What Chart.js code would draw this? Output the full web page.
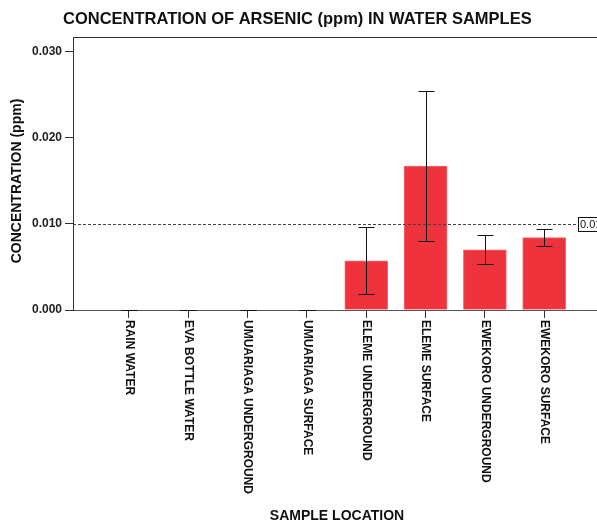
<!DOCTYPE html>
<html>
<head>
<meta charset="utf-8">
<title>Concentration of Arsenic in Water Samples</title>
<script src="https://cdn.jsdelivr.net/npm/chart.js@4.4.1/dist/chart.umd.min.js"></script>
<style>
  html, body { margin: 0; padding: 0; background: #ffffff; }
  #wrap { width: 597px; height: 526px; position: relative; }
</style>
</head>
<body>
<div id="wrap"><canvas id="chart" width="597" height="526"></canvas></div>
<script>
// Sample locations and arsenic results (ppm): mean and error half-width
const categories = [
  'RAIN WATER',
  'EVA BOTTLE WATER',
  'UMUARIAGA UNDERGROUND',
  'UMUARIAGA SURFACE',
  'ELEME UNDERGROUND',
  'ELEME SURFACE',
  'EWEKORO UNDERGROUND',
  'EWEKORO SURFACE'
];
const meanValues  = [0, 0, 0, 0, 0.0057, 0.0167, 0.0070, 0.0084];
const errorValues = [0, 0, 0, 0, 0.0039, 0.0087, 0.0017, 0.0010];
const yTickValues = [0, 0.01, 0.02, 0.03];
const referenceValue = 0.01;
const referenceLabel = '0.01';

const chartTitle = 'CONCENTRATION OF ARSENIC (ppm) IN WATER SAMPLES';
const yTitle = 'CONCENTRATION (ppm)';
const xTitle = 'SAMPLE LOCATION';

const FONT = '"Liberation Sans", Arial, sans-serif';
const AXIS_COLOR = '#333333';

// Titles, frame, category labels, error bars and the reference line
const decorations = {
  id: 'decorations',
  afterDatasetsDraw(chart) {
    const { ctx, chartArea, scales } = chart;
    const xs = scales.x, ys = scales.y;
    ctx.save();

    // top frame line
    ctx.strokeStyle = AXIS_COLOR;
    ctx.lineWidth = 1;
    ctx.beginPath();
    ctx.moveTo(chartArea.left, chartArea.top + 0.5);
    ctx.lineTo(chartArea.right, chartArea.top + 0.5);
    ctx.stroke();

    // error bars
    ctx.strokeStyle = '#111111';
    ctx.lineWidth = 1;
    const cap = 8;
    meanValues.forEach((m, i) => {
      const x = Math.round(xs.getPixelForValue(i)) + 0.5;
      const yHi = Math.round(ys.getPixelForValue(m + errorValues[i])) + 0.5;
      const yLo = Math.round(ys.getPixelForValue(m - errorValues[i])) + 0.5;
      ctx.beginPath();
      ctx.moveTo(x, yHi); ctx.lineTo(x, yLo);
      ctx.moveTo(x - cap, yHi); ctx.lineTo(x + cap, yHi);
      ctx.moveTo(x - cap, yLo); ctx.lineTo(x + cap, yLo);
      ctx.stroke();
    });

    // reference line with value box
    const ry = Math.round(ys.getPixelForValue(referenceValue)) + 0.5;
    ctx.font = '11px ' + FONT;
    const boxW = ctx.measureText(referenceLabel).width + 4;
    const boxX = 578;
    ctx.strokeStyle = '#444444';
    ctx.setLineDash([3, 2]);
    ctx.beginPath();
    ctx.moveTo(chartArea.left, ry);
    ctx.lineTo(boxX, ry);
    ctx.stroke();
    ctx.setLineDash([]);
    ctx.fillStyle = '#ffffff';
    ctx.fillRect(boxX, ry - 7, boxW, 14);
    ctx.strokeStyle = '#111111';
    ctx.strokeRect(boxX + 0.5, ry - 7, boxW, 14);
    ctx.fillStyle = '#111111';
    ctx.textAlign = 'left';
    ctx.textBaseline = 'middle';
    ctx.fillText(referenceLabel, boxX + 2, ry + 0.5);

    // category labels, reading downward from each tick
    ctx.font = 'bold 12px ' + FONT;
    ctx.fillStyle = '#111111';
    categories.forEach((label, i) => {
      const x = xs.getPixelForValue(i);
      ctx.save();
      ctx.translate(x, chartArea.bottom + 10);
      ctx.rotate(Math.PI / 2);
      ctx.textAlign = 'left';
      ctx.textBaseline = 'middle';
      ctx.fillText(label, 0, 0);
      ctx.restore();
    });

    // chart title
    ctx.font = 'bold 16.5px ' + FONT;
    ctx.fillStyle = '#111111';
    ctx.textAlign = 'left';
    ctx.textBaseline = 'middle';
    ctx.fillText(chartTitle, 63, 19);

    // y axis title
    ctx.font = 'bold 14px ' + FONT;
    ctx.save();
    ctx.translate(17, 181);
    ctx.rotate(-Math.PI / 2);
    ctx.textAlign = 'center';
    ctx.textBaseline = 'middle';
    ctx.fillText(yTitle, 0, 0);
    ctx.restore();

    // x axis title
    ctx.textAlign = 'center';
    ctx.textBaseline = 'middle';
    ctx.fillText(xTitle, 337, 516);

    ctx.restore();
  }
};

const barData = categories.map((c, i) => ({ x: i, y: meanValues[i] }));

new Chart(document.getElementById('chart'), {
  type: 'bar',
  data: {
    datasets: [{
      label: 'Arsenic (ppm)',
      data: barData,
      backgroundColor: '#EF333D',
      borderColor: '#F46A70',
      borderWidth: 1,
      barThickness: 43
    }]
  },
  options: {
    responsive: false,
    animation: false,
    layout: { padding: { top: 37, right: 0, left: 0, bottom: 0 } },
    plugins: {
      legend: { display: false },
      title: { display: false },
      tooltip: { enabled: false }
    },
    scales: {
      x: {
        type: 'linear',
        offset: false,
        min: -0.944,
        max: 7.89,
        afterBuildTicks(scale) {
          scale.ticks = categories.map((c, i) => ({ value: i }));
        },
        afterFit(scale) { scale.height = 216; },
        ticks: { display: false },
        grid: {
          offset: false,
          drawOnChartArea: false,
          drawTicks: true,
          tickLength: 8,
          tickColor: AXIS_COLOR
        },
        border: { color: '#555555', width: 1 }
      },
      y: {
        min: 0,
        max: 0.0317,
        afterBuildTicks(scale) {
          scale.ticks = yTickValues.map(v => ({ value: v }));
        },
        afterFit(scale) { scale.width = 73; },
        ticks: {
          padding: 3,
          color: '#222222',
          font: { family: FONT, size: 12, weight: 'bold' },
          callback: v => Number(v).toFixed(3)
        },
        grid: {
          drawOnChartArea: false,
          drawTicks: true,
          tickLength: 8,
          tickColor: AXIS_COLOR
        },
        border: { color: AXIS_COLOR, width: 1 }
      }
    }
  },
  plugins: [decorations]
});
</script>
</body>
</html>
